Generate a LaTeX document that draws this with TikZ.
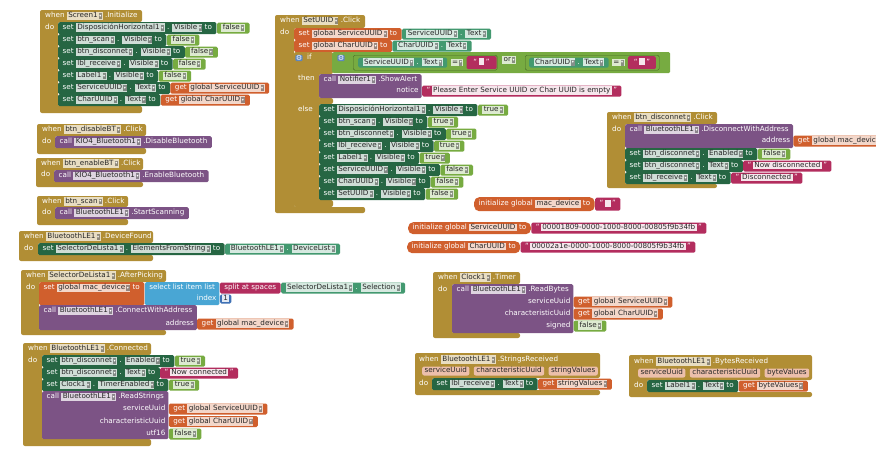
\documentclass[tikz,border=0pt]{standalone}
\usepackage{fontspec}
\newfontfamily\blocksfont{DejaVu Sans}
\usetikzlibrary{positioning}

\definecolor{evtgold}{HTML}{B18E35}
\definecolor{setgreen}{HTML}{266643}
\definecolor{getgreen}{HTML}{439970}
\definecolor{logicgreen}{HTML}{77AB41}
\definecolor{procpurple}{HTML}{7C5385}
\definecolor{varorange}{HTML}{D05F2D}
\definecolor{textpink}{HTML}{B32D5E}
\definecolor{listblue}{HTML}{49A6D4}
\definecolor{mathblue}{HTML}{3F71B5}
\colorlet{chip}{white}
\newcommand{\arrowbox}{{\setlength{\fboxsep}{0.5pt}\colorbox{chip!62!black}{\rule[-0.6pt]{0pt}{4.6pt}\raisebox{0.6pt}{\textcolor{white}{\fontsize{4.2pt}{4.2pt}\selectfont ▾}}}}}
\newcommand{\dd}[1]{{\setlength{\fboxsep}{0.8pt}\colorbox{chip}{\hspace{0.6pt}\textcolor{black!85}{#1}\hspace{1.2pt}\arrowbox}}}
\newcommand{\nm}[1]{{\setlength{\fboxsep}{0.8pt}\colorbox{chip}{\hspace{0.6pt}\textcolor{black!85}{#1}\hspace{0.6pt}}}}
\newcommand{\qtxt}[1]{“\hspace{1.5pt}\nm{#1}\hspace{1.5pt}”}

\begin{document}
\begin{tikzpicture}[x=1pt, y=-1pt,
  font=\blocksfont\fontsize{7.2pt}{7.5pt}\selectfont,
  blk/.style={anchor=north west, inner xsep=4.5pt, inner ysep=0pt, minimum height=12pt,
    text height=5.3pt, text depth=1.8pt, text=white, rounded corners=1.5pt},
  setb/.style={blk, fill=setgreen, execute at begin node={\colorlet{chip}{setgreen!22!white}}},
  getb/.style={blk, fill=getgreen, minimum height=11pt, execute at begin node={\colorlet{chip}{getgreen!22!white}}},
  logb/.style={blk, fill=logicgreen, minimum height=11pt, execute at begin node={\colorlet{chip}{logicgreen!25!white}}},
  callb/.style={blk, fill=procpurple, execute at begin node={\colorlet{chip}{procpurple!25!white}}},
  varb/.style={blk, fill=varorange, execute at begin node={\colorlet{chip}{varorange!25!white}}},
  initb/.style={varb, rounded corners=5pt},
  txtb/.style={blk, fill=textpink, minimum height=11pt, execute at begin node={\colorlet{chip}{textpink!12!white}}},
  listb/.style={blk, fill=listblue},
  mathb/.style={blk, fill=mathblue, inner xsep=2pt, minimum height=9pt, execute at begin node={\colorlet{chip}{mathblue!15!white}}},
  valb/.style={minimum height=11pt},
  evt/.style={fill=evtgold, rounded corners=2pt},
  hdr/.style={anchor=west, inner sep=0pt, text height=5.3pt, text depth=1.8pt, text=white,
    execute at begin node={\colorlet{chip}{evtgold!30!white}}},
  lbl/.style={anchor=west, inner sep=0pt, text height=5.3pt, text depth=1.8pt, text=white},
  onlog/.style={anchor=west, inner sep=0pt, text=white, execute at begin node={\colorlet{chip}{logicgreen!25!white}}},
  cmp/.style={anchor=north west, fill=logicgreen, draw=logicgreen!60!black, line width=0.4pt,
    minimum height=15pt, rounded corners=1.5pt, inner sep=0pt},
  gear/.style={fill=mathblue!85!white, text=white, inner sep=0.4pt, rounded corners=1pt},
  param/.style={anchor=west, inner xsep=2.5pt, inner ysep=0pt, minimum height=9pt, text height=5.3pt,
    text depth=1.8pt, rounded corners=2pt, fill=varorange!40!white, text=black!85}]

\fill[white] (0,0) rectangle (876,461);
\useasboundingbox (0,0) rectangle (876,461);

% Screen1.Initialize
\fill[evt] (40,10) -- (142,10) -- (142,22) -- (58,22) -- (58,106) -- (142,106) -- (142,113) -- (40,113) -- cycle;
\node[hdr] (h1) at (45,16) {when \dd{Screen1} .Initialize};
\node[lbl] (d1) at (45,28) {do};
\node[setb] (i1) at (58,22) {set \dd{DisposiciónHorizontal1} . \dd{Visible} to};
\node[logb, right=0pt of i1] (v1) {\dd{false}};
\node[setb] (i2) at (58,34) {set \dd{btn\_scan} . \dd{Visible} to};
\node[logb, right=0pt of i2] (v2) {\dd{false}};
\node[setb] (i3) at (58,46) {set \dd{btn\_disconnet} . \dd{Visible} to};
\node[logb, right=0pt of i3] (v3) {\dd{false}};
\node[setb] (i4) at (58,58) {set \dd{lbl\_receive} . \dd{Visible} to};
\node[logb, right=0pt of i4] (v4) {\dd{false}};
\node[setb] (i5) at (58,70) {set \dd{Label1} . \dd{Visible} to};
\node[logb, right=0pt of i5] (v5) {\dd{false}};
\node[setb] (i6) at (58,82) {set \dd{ServiceUUID} . \dd{Text} to};
\node[varb, valb, right=0pt of i6] (v6) {get \dd{global ServiceUUID}};
\node[setb] (i7) at (58,94) {set \dd{CharUUID} . \dd{Text} to};
\node[varb, valb, right=0pt of i7] (v7) {get \dd{global CharUUID}};

% btn_disableBT.Click
\fill[evt] (37,124) -- (146,124) -- (146,136) -- (55,136) -- (55,148) -- (146,148) -- (146,154) -- (37,154) -- cycle;
\node[hdr] (h2) at (42,130) {when \dd{btn\_disableBT} .Click};
\node[lbl] (d2) at (42,142) {do};
\node[callb] (b1) at (55,136) {call \dd{KIO4\_Bluetooth1} .DisableBluetooth};

% btn_enableBT.Click
\fill[evt] (36,158) -- (143,158) -- (143,170) -- (54,170) -- (54,182) -- (143,182) -- (143,187) -- (36,187) -- cycle;
\node[hdr] (h3) at (41,163.5) {when \dd{btn\_enableBT} .Click};
\node[lbl] (d3) at (41,175) {do};
\node[callb] (b2) at (54,170) {call \dd{KIO4\_Bluetooth1} .EnableBluetooth};

% btn_scan.Click
\fill[evt] (37,196) -- (128,196) -- (128,207) -- (55,207) -- (55,219) -- (128,219) -- (128,225) -- (37,225) -- cycle;
\node[hdr] (h4) at (42,201.5) {when \dd{btn\_scan} .Click};
\node[lbl] (d4) at (42,213) {do};
\node[callb] (b3) at (55,207) {call \dd{BluetoothLE1} .StartScanning};

% BluetoothLE1.DeviceFound
\fill[evt] (19,231) -- (153,231) -- (153,243) -- (38,243) -- (38,255) -- (153,255) -- (153,261) -- (19,261) -- cycle;
\node[hdr] (h5) at (24,237) {when \dd{BluetoothLE1} .DeviceFound};
\node[lbl] (d5) at (24,249) {do};
\node[setb] (f1) at (38,243) {set \dd{SelectorDeLista1} . \dd{ElementsFromString} to};
\node[getb, right=0pt of f1] (f2) {\dd{BluetoothLE1} . \dd{DeviceList}};

% SelectorDeLista1.AfterPicking
\fill[evt] (21,270) -- (166,270) -- (166,282) -- (39,282) -- (39,330) -- (166,330) -- (166,335) -- (21,335) -- cycle;
\node[hdr] (h6) at (26,276) {when \dd{SelectorDeLista1} .AfterPicking};
\node[lbl] (d6) at (26,288) {do};
\node[varb, minimum height=23pt, text depth=12.8pt] (a1) at (39,282) {set \dd{global mac\_device} to};
\node[listb, minimum height=23pt, text depth=12.8pt] (a2) at (a1.north east) {select list item list};
\node[lbl, anchor=east] (a3) at ([xshift=-3pt,yshift=-17pt]a2.north east) {index};
\node[mathb, anchor=west] (a4) at ([yshift=-17pt]a2.north east) {\nm{1}};
\node[txtb, anchor=west] (a5) at ([yshift=-6pt]a2.north east) {split at spaces};
\node[getb, right=0pt of a5] (a6) {\dd{SelectorDeLista1} . \dd{Selection}};
\node[callb, minimum height=25pt, text depth=14.8pt] (a7) at (39,305) {call \dd{BluetoothLE1} .ConnectWithAddress};
\node[lbl, anchor=east] (a8) at ([xshift=-3pt,yshift=-19pt]a7.north east) {address};
\node[varb, valb, anchor=west] (a9) at ([yshift=-19pt]a7.north east) {get \dd{global mac\_device}};

% BluetoothLE1.Connected
\fill[evt] (23,343) -- (151,343) -- (151,355) -- (42,355) -- (42,439) -- (151,439) -- (151,446) -- (23,446) -- cycle;
\node[hdr] (h7) at (28,349) {when \dd{BluetoothLE1} .Connected};
\node[lbl] (d7) at (28,361) {do};
\node[setb] (c1) at (42,355) {set \dd{btn\_disconnet} . \dd{Enabled} to};
\node[logb, right=0pt of c1] (c2) {\dd{true}};
\node[setb] (c3) at (42,367) {set \dd{btn\_disconnet} . \dd{Text} to};
\node[txtb, right=0pt of c3] (c4) {\qtxt{Now connected}};
\node[setb] (c5) at (42,379) {set \dd{Clock1} . \dd{TimerEnabled} to};
\node[logb, right=0pt of c5] (c6) {\dd{true}};
\node[callb, minimum height=48pt, text depth=37.8pt] (c7) at (42,391) {call \dd{BluetoothLE1} .ReadStrings};
\node[lbl, anchor=east] (c8) at ([xshift=-3pt,yshift=-18pt]c7.north east) {serviceUuid};
\node[varb, valb, anchor=west] (c9) at ([yshift=-18pt]c7.north east) {get \dd{global ServiceUUID}};
\node[lbl, anchor=east] (c10) at ([xshift=-3pt,yshift=-30.5pt]c7.north east) {characteristicUuid};
\node[varb, valb, anchor=west] (c11) at ([yshift=-30.5pt]c7.north east) {get \dd{global CharUUID}};
\node[lbl, anchor=east] (c12) at ([xshift=-3pt,yshift=-43pt]c7.north east) {utf16};
\node[logb, anchor=west] (c13) at ([yshift=-43pt]c7.north east) {\dd{false}};

% SetUUID.Click
\fill[evt] (275,15) -- (365,15) -- (365,28) -- (294,28) -- (294,207) -- (365,207) -- (365,213) -- (275,213) -- cycle;
\node[hdr] (h8) at (280,21) {when \dd{SetUUID} .Click};
\node[lbl] (d8) at (280,33) {do};
\node[varb] (u1) at (294,28) {set \dd{global ServiceUUID} to};
\node[getb, right=0pt of u1] (u2) {\dd{ServiceUUID} . \dd{Text}};
\node[varb] (u3) at (294,40) {set \dd{global CharUUID} to};
\node[getb, right=0pt of u3] (u4) {\dd{CharUUID} . \dd{Text}};
\fill[evt] (294,52) -- (333,52) -- (333,74) -- (319,74) -- (319,98) -- (333,98) -- (333,104) -- (319,104) -- (319,200) -- (333,200) -- (333,207) -- (294,207) -- cycle;
\node[gear] (u5) at (299,58) {⚙};
\node[lbl] (u6) at (307,58) {if};
\node[logb, minimum width=338pt, minimum height=21pt] (o1) at (332,52) {};
\node[gear] (o2) at (341,58) {⚙};
\node[cmp, minimum width=144pt] (o3) at (353,55) {};
\node[getb, minimum height=10pt] (o4) at (358,57.5) {\dd{ServiceUUID} . \dd{Text}};
\node[onlog, right=3pt of o4] (o5) {\dd{=}};
\node[txtb, minimum height=13pt, minimum width=30pt, right=3pt of o5] (o6) {\qtxt{\rule{0pt}{5.5pt}\hspace{3pt}}};
\node[onlog] (o7) at (502,60) {\dd{or}};
\node[cmp, minimum width=134pt] (o8) at (525,55) {};
\node[getb, minimum height=10pt] (o9) at (529,57.5) {\dd{CharUUID} . \dd{Text}};
\node[onlog, right=3pt of o9] (o10) {\dd{=}};
\node[txtb, minimum height=13pt, minimum width=28pt, right=3pt of o10] (o11) {\qtxt{\rule{0pt}{5.5pt}\hspace{3pt}}};
\node[lbl] (u7) at (298,79) {then};
\node[callb, minimum height=24pt, text depth=13.8pt] (u8) at (319,74) {call \dd{Notifier1} .ShowAlert};
\node[lbl, anchor=east] (u9) at ([xshift=-3pt,yshift=-17pt]u8.north east) {notice};
\node[txtb, anchor=west] (u10) at ([yshift=-17pt]u8.north east) {\qtxt{Please Enter Service UUID or Char UUID is empty}};
\node[lbl] (u11) at (298,110) {else};
\node[setb] (e1) at (319,104) {set \dd{DisposiciónHorizontal1} . \dd{Visible} to};
\node[logb, right=0pt of e1] (w1) {\dd{true}};
\node[setb] (e2) at (319,116) {set \dd{btn\_scan} . \dd{Visible} to};
\node[logb, right=0pt of e2] (w2) {\dd{true}};
\node[setb] (e3) at (319,128) {set \dd{btn\_disconnet} . \dd{Visible} to};
\node[logb, right=0pt of e3] (w3) {\dd{true}};
\node[setb] (e4) at (319,140) {set \dd{lbl\_receive} . \dd{Visible} to};
\node[logb, right=0pt of e4] (w4) {\dd{true}};
\node[setb] (e5) at (319,152) {set \dd{Label1} . \dd{Visible} to};
\node[logb, right=0pt of e5] (w5) {\dd{true}};
\node[setb] (e6) at (319,164) {set \dd{ServiceUUID} . \dd{Visible} to};
\node[logb, right=0pt of e6] (w6) {\dd{false}};
\node[setb] (e7) at (319,176) {set \dd{CharUUID} . \dd{Visible} to};
\node[logb, right=0pt of e7] (w7) {\dd{false}};
\node[setb] (e8) at (319,188) {set \dd{SetUUID} . \dd{Visible} to};
\node[logb, right=0pt of e8] (w8) {\dd{false}};

% btn_disconnet.Click
\fill[evt] (607,112) -- (717,112) -- (717,124) -- (625,124) -- (625,184) -- (717,184) -- (717,188) -- (607,188) -- cycle;
\node[hdr] (h9) at (612,118) {when \dd{btn\_disconnet} .Click};
\node[lbl] (d9) at (612,130) {do};
\node[callb, minimum height=24pt, text depth=13.8pt] (k1) at (625,124) {call \dd{BluetoothLE1} .DisconnectWithAddress};
\node[lbl, anchor=east] (k2) at ([xshift=-3pt,yshift=-17pt]k1.north east) {address};
\node[varb, valb, anchor=west] (k3) at ([yshift=-17pt]k1.north east) {get \dd{global mac\_device}};
\node[setb] (k4) at (625,148) {set \dd{btn\_disconnet} . \dd{Enabled} to};
\node[logb, right=0pt of k4] (k5) {\dd{false}};
\node[setb] (k6) at (625,160) {set \dd{btn\_disconnet} . \dd{Text} to};
\node[txtb, right=0pt of k6] (k7) {\qtxt{Now disconnected}};
\node[setb] (k8) at (625,172) {set \dd{lbl\_receive} . \dd{Text} to};
\node[txtb, right=0pt of k8] (k9) {\qtxt{Disconnected}};

% global variables
\node[initb, minimum height=14pt] (g1) at (474,197) {initialize global \nm{mac\_device} to};
\node[txtb, minimum height=13pt, minimum width=25pt, right=0pt of g1] (g2) {\qtxt{\rule{0pt}{5.5pt}\hspace{3pt}}};
\node[initb] (g3) at (408,222) {initialize global \nm{ServiceUUID} to};
\node[txtb, right=0pt of g3] (g4) {\qtxt{00001809-0000-1000-8000-00805f9b34fb}};
\node[initb] (g5) at (407,241) {initialize global \nm{CharUUID} to};
\node[txtb, right=0pt of g5] (g6) {\qtxt{00002a1e-0000-1000-8000-00805f9b34fb}};

% Clock1.Timer
\fill[evt] (433,272) -- (520,272) -- (520,284) -- (452,284) -- (452,333) -- (520,333) -- (520,338) -- (433,338) -- cycle;
\node[hdr] (h10) at (438,278) {when \dd{Clock1} .Timer};
\node[lbl] (d10) at (438,290) {do};
\node[callb, minimum height=49pt, text depth=38.8pt] (t1) at (452,284) {call \dd{BluetoothLE1} .ReadBytes};
\node[lbl, anchor=east] (t2) at ([xshift=-3pt,yshift=-18pt]t1.north east) {serviceUuid};
\node[varb, valb, anchor=west] (t3) at ([yshift=-18pt]t1.north east) {get \dd{global ServiceUUID}};
\node[lbl, anchor=east] (t4) at ([xshift=-3pt,yshift=-30pt]t1.north east) {characteristicUuid};
\node[varb, valb, anchor=west] (t5) at ([yshift=-30pt]t1.north east) {get \dd{global CharUUID}};
\node[lbl, anchor=east] (t6) at ([xshift=-3pt,yshift=-42pt]t1.north east) {signed};
\node[logb, anchor=west] (t7) at ([yshift=-42pt]t1.north east) {\dd{false}};

% BluetoothLE1.StringsReceived
\fill[evt] (415,353) -- (600,353) -- (600,378) -- (432,378) -- (432,390) -- (600,390) -- (600,395) -- (415,395) -- cycle;
\node[hdr] (h11) at (419,360) {when \dd{BluetoothLE1} .StringsReceived};
\node[param] (p1) at (422,371) {serviceUuid};
\node[param, right=4pt of p1] (p2) {characteristicUuid};
\node[param, right=4pt of p2] (p3) {stringValues};
\node[lbl] (d11) at (419,384) {do};
\node[setb] (r1) at (432,378) {set \dd{lbl\_receive} . \dd{Text} to};
\node[varb, valb, right=0pt of r1] (r2) {get \dd{stringValues}};

% BluetoothLE1.BytesReceived
\fill[evt] (629,355) -- (812,355) -- (812,380) -- (647,380) -- (647,392) -- (812,392) -- (812,397) -- (629,397) -- cycle;
\node[hdr] (h12) at (634,362) {when \dd{BluetoothLE1} .BytesReceived};
\node[param] (q1) at (638,373) {serviceUuid};
\node[param, right=4pt of q1] (q2) {characteristicUuid};
\node[param, right=4pt of q2] (q3) {byteValues};
\node[lbl] (d12) at (634,386) {do};
\node[setb] (y1) at (647,380) {set \dd{Label1} . \dd{Text} to};
\node[varb, valb, right=0pt of y1] (y2) {get \dd{byteValues}};

\end{tikzpicture}
\end{document}
